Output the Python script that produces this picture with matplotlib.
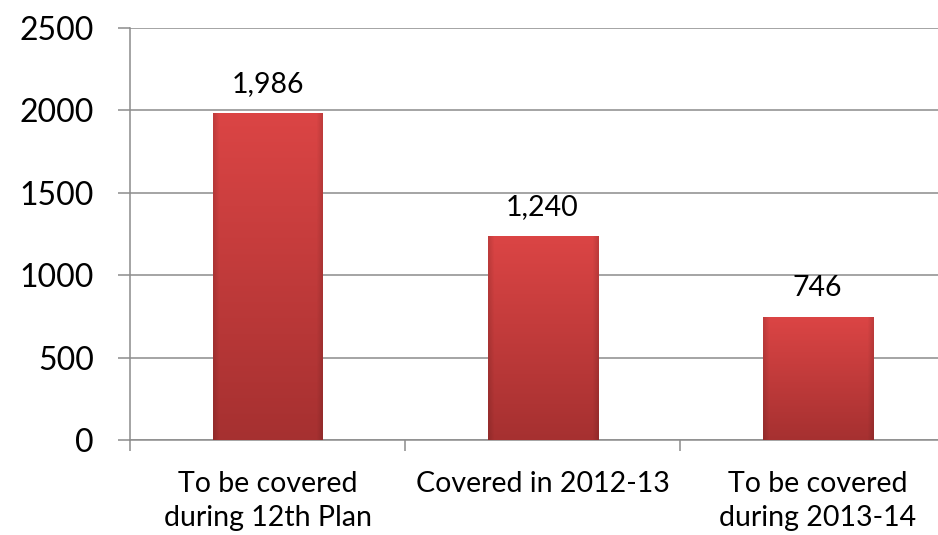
import numpy as np
import matplotlib
matplotlib.use("Agg")
import matplotlib.pyplot as plt
from matplotlib.ticker import FixedLocator

categories = ["To be covered\nduring 12th Plan", "Covered in 2012-13", "To be covered\nduring 2013-14"]
values = [1986, 1240, 746]
value_labels = ["1,986", "1,240", "746"]
y_ticks = [0, 500, 1000, 1500, 2000, 2500]

plt.rcParams['font.family'] = ['Lato', 'DejaVu Sans']

fig = plt.figure(figsize=(9.38, 5.35), dpi=100)
ax = fig.add_axes([130/938, 95/535, 825/938, 412/535])

grid_col = '#8c8c8c'
x = np.arange(len(values))
bar_w = 0.4
bars = ax.bar(x, values, width=bar_w, color='#c93b3b', zorder=3, linewidth=0)

# gradient fill for bars (top lighter, bottom darker, edges darker)
ny, nx = 200, 60
t = np.linspace(0, 1, ny)[:, None]
s = np.linspace(0, 1, nx)[None, :]
top = np.array([0.86, 0.27, 0.27])
bot = np.array([0.65, 0.19, 0.19])
base = top[None, None, :] * (1 - t[..., None]) + bot[None, None, :] * t[..., None]
edge = np.minimum(s, 1 - s)
shade = np.clip(edge / 0.05, 0, 1) * 0.12 + 0.88
img = base * shade[..., None]
img = np.broadcast_to(img, (ny, nx, 3)).copy()
for b in bars:
    x0, y0 = b.get_x(), b.get_y()
    w, h = b.get_width(), b.get_height()
    im = ax.imshow(img, extent=[x0, x0 + w, y0, y0 + h], aspect='auto',
                   origin='upper', zorder=4, interpolation='bilinear')
    im.set_clip_path(b)

for xi, v, lab in zip(x, values, value_labels):
    ax.annotate(lab, (xi, v), xytext=(0, 15), textcoords='offset points',
                ha='center', va='baseline', fontsize=20.5, color='black', zorder=5)

ax.set_xlim(-0.5, 2.5)
ax.set_ylim(0, 2500)
ax.set_yticks(y_ticks)
ax.set_yticklabels([str(v) for v in y_ticks])
ax.yaxis.grid(True, color=grid_col, linewidth=1.1, zorder=0)
ax.set_axisbelow(True)

ax.xaxis.set_major_locator(FixedLocator([-0.5, 0.5, 1.5, 2.5]))
ax.xaxis.set_minor_locator(FixedLocator(x))
ax.set_xticklabels([], minor=False)
ax.set_xticklabels(categories, minor=True, fontsize=20.5, linespacing=1.4)
ax.tick_params(axis='x', which='major', length=8, width=1.1, color=grid_col)
ax.tick_params(axis='x', which='minor', length=0, pad=22)
ax.tick_params(axis='y', which='major', length=9, width=1.1, color=grid_col,
               labelsize=23, pad=17)

for sp in ['top', 'right']:
    ax.spines[sp].set_visible(False)
for sp in ['left', 'bottom']:
    ax.spines[sp].set_color(grid_col)
    ax.spines[sp].set_linewidth(1.1)

fig.savefig('out.png', dpi=100)
